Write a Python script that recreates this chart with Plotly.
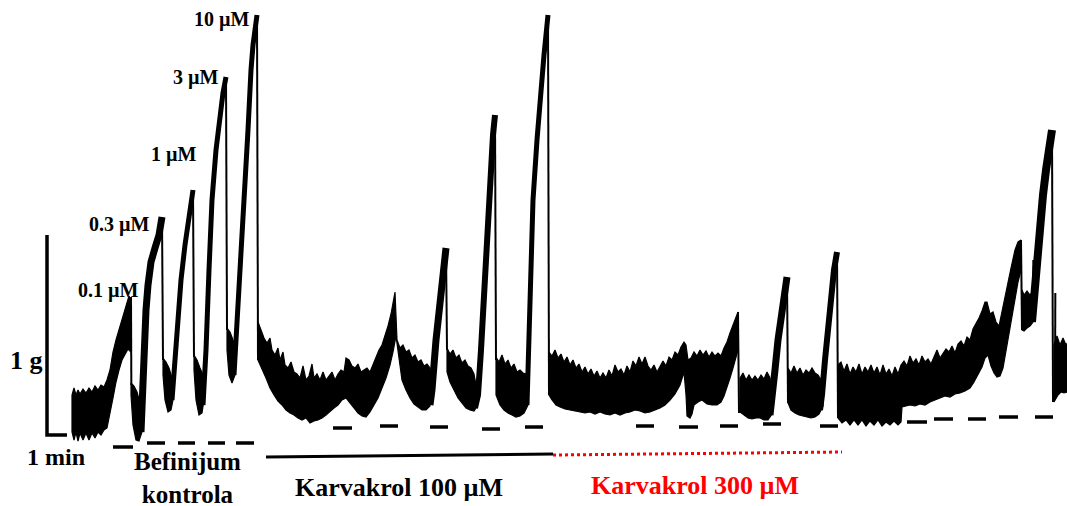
import plotly.graph_objects as go

# ---------------- DATA (time in s, tension in mg) ----------------
# noisy tension band segments: upper and lower envelopes (time, mg)
A_upper = [(0,200),(6,235),(12,200),(18,225),(24,205),(33,230),(42,210),(51,235),(60,215),(69,245),(78,225),(87,250),(96,240),(105,275),(114,325),(123,415),(132,475),(141,525),(150,575),(159,625),(165,660),(171,695),(177,675)]
A_lower = [(0,15),(6,-25),(12,15),(18,-30),(24,10),(33,-25),(42,10),(51,-25),(60,10),(69,-15),(78,15),(87,0),(96,25),(105,35),(114,100),(123,185),(132,265),(141,325),(150,375),(159,405),(168,430),(177,415)]
B_upper = [(177,260),(186,245),(195,215),(204,165),(210,125)]
B_lower = [(177,200),(183,50),(192,-25),(201,-30),(210,15)]
C_upper = [(273,385),(282,365),(291,335),(300,285)]
C_lower = [(273,300),(279,175),(288,115),(297,125),(303,175)]
D_upper = [(366,400),(375,375),(384,335),(393,300)]
D_lower = [(366,325),(372,175),(381,100),(390,110),(396,175)]
E_upper = [(465,535),(474,515),(483,475),(489,425)]
E_lower = [(465,425),(471,300),(480,260),(489,300)]
F_upper = [(558,565),(567,525),(576,485),(585,460),(594,485),(600,425),(609,400),(618,435),(624,375),(633,415),(639,350),(648,335),(657,365),(666,315),(675,305),(684,285),(693,345),(702,275),(711,295),(720,355),(726,285),(735,305),(744,275),(753,315),(762,275),(771,295),(780,315),(789,275),(798,305),(807,325),(816,315),(822,385),(831,375),(840,345),(849,335),(858,355),(867,315),(876,325),(885,335),(894,315),(903,355),(912,385),(921,425),(930,450),(939,495),(948,545),(957,605),(963,655),(969,715),(975,475),(984,435),(993,450),(1002,415),(1011,425),(1020,385),(1029,400),(1038,365),(1047,375),(1056,345),(1065,355),(1074,335)]
F_lower = [(558,375),(570,335),(582,285),(594,235),(606,200),(618,170),(630,150),(642,125),(654,110),(666,100),(678,85),(690,75),(702,85),(714,60),(726,70),(738,75),(750,85),(762,100),(774,115),(786,135),(798,150),(810,175),(822,185),(834,165),(846,135),(858,110),(870,95),(882,90),(894,115),(906,150),(918,185),(930,235),(942,285),(954,350),(963,415),(972,495),(978,425),(990,275),(1002,225),(1014,185),(1026,155),(1038,140),(1050,125),(1062,125),(1074,145)]
H_upper = [(1125,435),(1134,405),(1143,425),(1152,385),(1161,400),(1170,360),(1179,375),(1188,345),(1197,335),(1206,305),(1212,250)]
H_lower = [(1125,315),(1134,265),(1146,225),(1158,185),(1170,160),(1182,135),(1194,125),(1206,120),(1212,135)]
I_upper = [(1272,390),(1281,365),(1290,400),(1299,355),(1308,375),(1317,335),(1326,355),(1335,315),(1344,325),(1353,310),(1362,305),(1368,250)]
I_lower = [(1272,200),(1284,150),(1296,125),(1308,110),(1320,100),(1332,90),(1344,95),(1356,110),(1368,150)]
J_upper = [(1431,415),(1440,395),(1449,425),(1458,385),(1467,405),(1476,365),(1485,390),(1494,350),(1503,375),(1512,335),(1521,355),(1530,315),(1539,340),(1548,305),(1557,330),(1566,295),(1575,320),(1584,285),(1593,310),(1602,285),(1611,325),(1620,295),(1629,350),(1638,315),(1647,330),(1656,300),(1665,345),(1674,315),(1683,370),(1692,345),(1701,390),(1710,355),(1719,390),(1728,345),(1737,325),(1746,350),(1755,315),(1764,340),(1773,370),(1782,345),(1791,390),(1800,375),(1809,415),(1818,400),(1827,440),(1836,465),(1842,450),(1848,375),(1857,385),(1866,415),(1875,395),(1884,425),(1893,400),(1902,420),(1911,390),(1920,415),(1929,395),(1938,410),(1947,395),(1956,435),(1965,465),(1974,510),(1983,550),(1992,585),(1998,615)]
J_lower = [(1431,200),(1440,175),(1452,150),(1464,140),(1479,130),(1494,125),(1509,120),(1524,115),(1539,110),(1554,115),(1569,105),(1584,115),(1599,105),(1614,100),(1629,110),(1644,100),(1659,110),(1674,115),(1689,125),(1704,120),(1719,110),(1734,115),(1749,125),(1764,135),(1779,150),(1794,175),(1809,205),(1824,250),(1836,315),(1842,200),(1845,95),(1854,85),(1860,105),(1866,150),(1878,165),(1890,175),(1905,155),(1920,150),(1935,150),(1947,165),(1956,195),(1965,235),(1974,285),(1983,335),(1992,385),(1998,425)]
L_upper = [(2004,285),(2013,310),(2022,275),(2031,300),(2040,275),(2049,295),(2058,275),(2067,300),(2076,280),(2085,315),(2094,285),(2100,200)]
L_lower = [(2004,115),(2016,100),(2028,85),(2040,80),(2052,85),(2064,85),(2076,75),(2088,75),(2100,105)]
M_upper = [(2148,335),(2157,310),(2166,345),(2175,310),(2184,335),(2193,300),(2202,325),(2211,310),(2220,335),(2229,310),(2238,300),(2247,275),(2253,200)]
M_lower = [(2148,160),(2157,125),(2169,110),(2181,100),(2193,95),(2205,90),(2217,85),(2229,90),(2241,105),(2253,145)]
N_upper = [(2298,350),(2307,365),(2316,320),(2325,355),(2334,305),(2343,340),(2352,315),(2361,355),(2370,305),(2379,340),(2388,315),(2397,350),(2406,310),(2415,340),(2424,300),(2433,350),(2442,305),(2451,330),(2460,295),(2469,340),(2478,305),(2487,350),(2496,370),(2505,345),(2514,395),(2523,360),(2532,380),(2541,350),(2550,395),(2559,365),(2568,380),(2577,355),(2586,390),(2595,425),(2604,385),(2613,410),(2622,430),(2631,415),(2640,445),(2649,410),(2658,455),(2667,470),(2676,445),(2685,490),(2694,475),(2703,530),(2712,555),(2721,585),(2730,620),(2739,665),(2745,665),(2754,605),(2763,615),(2772,565),(2781,545),(2793,645),(2805,735),(2817,835),(2829,925),(2838,965),(2847,975)]
N_lower = [(2298,85),(2310,60),(2322,75),(2334,50),(2346,75),(2358,50),(2370,75),(2382,45),(2394,70),(2406,50),(2418,75),(2430,45),(2442,65),(2454,50),(2466,70),(2478,50),(2487,65),(2490,140),(2502,145),(2514,150),(2529,145),(2544,155),(2559,150),(2574,165),(2589,175),(2604,185),(2619,195),(2634,190),(2649,205),(2664,210),(2679,220),(2694,235),(2706,265),(2718,300),(2730,340),(2739,385),(2748,400),(2757,345),(2766,310),(2775,290),(2784,295),(2793,335),(2802,415),(2814,525),(2826,650),(2838,765),(2847,825)]
O_upper = [(2850,725),(2856,700),(2865,720),(2874,700),(2883,720)]
O_lower = [(2850,525),(2856,520),(2865,535),(2874,545),(2883,565)]
P_upper = [(2946,450),(2955,495),(2964,450),(2973,485),(2982,450),(2988,465)]
P_lower = [(2946,165),(2958,200),(2967,215),(2976,210),(2988,215)]

# contraction ramps (time, mg)
ramp_03 = [(207,15),(210,175),(216,425),(222,625),(228,750),(237,865),(249,935),(261,1000),(270,1090)]
ramp_1 = [(300,175),(306,325),(315,525),(327,775),(339,950),(351,1100),(363,1225)]
ramp_3 = [(393,150),(402,425),(411,825),(420,1175),(432,1425),(444,1600),(453,1710),(462,1790)]
ramp_10 = [(486,300),(492,475),(501,725),(510,975),(519,1175),(528,1525),(537,1825),(543,1950),(555,2100)]
ramp_k100_a = [(1074,150),(1080,225),(1092,475),(1104,640),(1113,810),(1122,935)]
ramp_k100_b = [(1209,135),(1218,200),(1227,425),(1236,725),(1245,1000),(1254,1300),(1263,1500),(1269,1600)]
ramp_k100_c = [(1365,150),(1368,340),(1377,840),(1383,1175),(1395,1475),(1404,1675),(1416,1900),(1428,2100)]
ramp_k300_b = [(2094,100),(2100,175),(2109,325),(2118,475),(2127,600),(2136,700),(2145,790)]
ramp_k300_c = [(2244,125),(2250,200),(2259,375),(2268,550),(2277,700),(2286,825),(2295,915)]
ramp_last = [(2880,565),(2886,700),(2895,885),(2904,1050),(2913,1200),(2922,1325),(2931,1425),(2940,1525)]

# washout drops and spikes (time, mg) -> (time, mg)
washouts = [((177,690),(178,250)),((270,1090),(273,375)),((363,1225),(366,390)),((462,1790),(465,525)),
            ((555,2100),(558,375)),((1122,935),(1125,425)),((1269,1600),(1272,375)),((1428,2100),(1431,200)),
            ((1998,615),(2001,110)),((2145,790),(2148,160)),((2295,915),(2298,85)),((2847,975),(2850,525)),
            ((2883,700),(2884,875)),((2940,1525),(2943,165)),((2949,200),(2950,710))]

# drug addition markers (start s, end s, mg)
control_marks = [(123,183,-60),(225,279,-40),(318,369,-40),(408,459,-40),(492,546,-40)]
k100_marks = [(783,840,35),(924,978,45),(1074,1128,40),(1230,1284,30),(1359,1413,40)]
k300_marks = [(1692,1746,45),(1821,1878,40),(1944,1998,45),(2073,2127,55),(2244,2298,45)]
late_marks = [(2505,2565,65),(2586,2643,80),(2688,2742,80),(2781,2838,90),(2889,2943,90)]

# treatment periods (time s, mg)
k100_period = [(582,-110),(1443,-95)]
k300_period = [(1443,-100),(2310,-85)]

# scale bar: 1 g (1000 mg) and 1 min (60 s)
scale_bar = [(-75,1000),(-75,0),(-15,0)]

conc_labels = ["0.1 µM", "0.3 µM", "1 µM", "3 µM", "10 µM"]
conc_label_pos = [(108,725),(141,1055),(306,1405),(372,1790),(450,2080)]

# ---------------- FIGURE ----------------
BLACK = "#000000"
FONT = "Liberation Serif, Times New Roman, serif"

bands = [(A_upper, A_lower), (B_upper, B_lower), (C_upper, C_lower), (D_upper, D_lower),
         (E_upper, E_lower), (F_upper, F_lower), (H_upper, H_lower), (I_upper, I_lower),
         (J_upper, J_lower), (L_upper, L_lower), (M_upper, M_lower), (N_upper, N_lower),
         (O_upper, O_lower), (P_upper, P_lower)]

bx, by = [], []
for up, lo in bands:
    pts = list(up) + list(reversed(lo)) + [up[0]]
    bx += [p[0] for p in pts] + [None]
    by += [p[1] for p in pts] + [None]

fig = go.Figure()
fig.add_trace(go.Scatter(x=bx, y=by, mode="lines", fill="toself", fillcolor=BLACK,
                         line=dict(color=BLACK, width=1.2), hoverinfo="skip"))

ramp_styles = [(ramp_03, 7), (ramp_1, 5), (ramp_3, 5), (ramp_10, 5), (ramp_k100_a, 7),
               (ramp_k100_b, 6), (ramp_k100_c, 5), (ramp_k300_b, 7), (ramp_k300_c, 6), (ramp_last, 8)]
for r, w in ramp_styles:
    fig.add_trace(go.Scatter(x=[p[0] for p in r], y=[p[1] for p in r], mode="lines",
                             line=dict(color=BLACK, width=w), hoverinfo="skip"))

wx, wy = [], []
for a, b in washouts:
    wx += [a[0], b[0], None]
    wy += [a[1], b[1], None]
fig.add_trace(go.Scatter(x=wx, y=wy, mode="lines", line=dict(color=BLACK, width=2), hoverinfo="skip"))

mx, my = [], []
for s, e, f in control_marks + k100_marks + k300_marks + late_marks:
    mx += [s, e, None]
    my += [f, f, None]
fig.add_trace(go.Scatter(x=mx, y=my, mode="lines", line=dict(color=BLACK, width=3.5), hoverinfo="skip"))

fig.add_trace(go.Scatter(x=[p[0] for p in k100_period], y=[p[1] for p in k100_period], mode="lines",
                         line=dict(color=BLACK, width=3), hoverinfo="skip"))
fig.add_trace(go.Scatter(x=[p[0] for p in k300_period], y=[p[1] for p in k300_period], mode="lines",
                         line=dict(color="#ff0000", width=3, dash="dot"), hoverinfo="skip"))
fig.add_trace(go.Scatter(x=[p[0] for p in scale_bar], y=[p[1] for p in scale_bar], mode="lines",
                         line=dict(color=BLACK, width=3.5), hoverinfo="skip"))

def label(x, y, text, size, color=BLACK):
    fig.add_annotation(x=x, y=y, xref="x", yref="y", text=text, showarrow=False,
                       xanchor="center", yanchor="middle", borderpad=0,
                       font=dict(family=FONT, size=size, color=color, weight="bold"))

for t, (x, y) in zip(conc_labels, conc_label_pos):
    label(x, y, t, 20)

label(-138, 375, "1 g", 26)
label(-48, -110, "1 min", 24)
label(345, -215, "Befinijum<br>kontrola", 25)
label(981, -260, "Karvakrol 100 µM", 26)
label(1869, -250, "Karvakrol 300 µM", 26, "#ff0000")

fig.update_layout(width=1067, height=506, margin=dict(l=0, r=0, t=0, b=0),
                  paper_bgcolor="white", plot_bgcolor="white", showlegend=False,
                  xaxis=dict(visible=False, range=[-216, 2985]),
                  yaxis=dict(visible=False, range=[-355, 2175]))

# remove the page's default body margin so the figure fills the window exactly
fig.write_html("out.html", config={"displayModeBar": False},
               post_script="document.body.style.margin='0';document.body.style.overflow='hidden';")
